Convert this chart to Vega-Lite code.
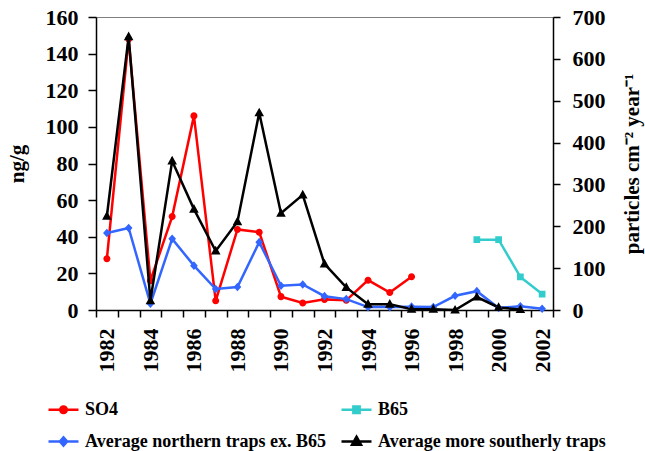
{
  "$schema": "https://vega.github.io/schema/vega-lite/v6.json",
  "autosize": {"type": "none"},
  "padding": {"left": 96, "top": 17, "right": 92, "bottom": 141},
  "width": 457,
  "height": 293,
  "background": "white",
  "config": {
    "view": {"stroke": "#808080", "strokeWidth": 1},
    "font": "Liberation Serif",
    "axis": {
      "labelFont": "Liberation Serif", "labelFontWeight": "bold", "labelFontSize": 22, "labelColor": "#000",
      "titleFont": "Liberation Serif", "titleFontWeight": "bold", "titleFontSize": 21, "titleColor": "#000",
      "domainColor": "#000", "tickColor": "#000", "domainWidth": 1.5, "tickWidth": 1.5, "grid": false
    },
    "legend": {
      "labelFont": "Liberation Serif", "labelFontWeight": "bold", "labelFontSize": 18, "labelColor": "#000",
      "padding": 0, "symbolSize": 900, "symbolStrokeWidth": 2.5, "labelOffset": 5, "labelLimit": 400
    }
  },
  "data": {"values": [
    {"year": 1982, "series": "SO4", "v": 28},
    {"year": 1983, "series": "SO4", "v": 148},
    {"year": 1984, "series": "SO4", "v": 16},
    {"year": 1985, "series": "SO4", "v": 51},
    {"year": 1986, "series": "SO4", "v": 106},
    {"year": 1987, "series": "SO4", "v": 5},
    {"year": 1988, "series": "SO4", "v": 44},
    {"year": 1989, "series": "SO4", "v": 42.5},
    {"year": 1990, "series": "SO4", "v": 7.3},
    {"year": 1991, "series": "SO4", "v": 3.8},
    {"year": 1992, "series": "SO4", "v": 5.8},
    {"year": 1993, "series": "SO4", "v": 5.3},
    {"year": 1994, "series": "SO4", "v": 16.3},
    {"year": 1995, "series": "SO4", "v": 9.5},
    {"year": 1996, "series": "SO4", "v": 18.1},
    {"year": 1999, "series": "B65", "v": 168},
    {"year": 2000, "series": "B65", "v": 168},
    {"year": 2001, "series": "B65", "v": 79},
    {"year": 2002, "series": "B65", "v": 38},
    {"year": 1982, "series": "Average northern traps ex. B65", "v": 184},
    {"year": 1983, "series": "Average northern traps ex. B65", "v": 196},
    {"year": 1984, "series": "Average northern traps ex. B65", "v": 15},
    {"year": 1985, "series": "Average northern traps ex. B65", "v": 170},
    {"year": 1986, "series": "Average northern traps ex. B65", "v": 106},
    {"year": 1987, "series": "Average northern traps ex. B65", "v": 50},
    {"year": 1988, "series": "Average northern traps ex. B65", "v": 55},
    {"year": 1989, "series": "Average northern traps ex. B65", "v": 162},
    {"year": 1990, "series": "Average northern traps ex. B65", "v": 58},
    {"year": 1991, "series": "Average northern traps ex. B65", "v": 61},
    {"year": 1992, "series": "Average northern traps ex. B65", "v": 33},
    {"year": 1993, "series": "Average northern traps ex. B65", "v": 26},
    {"year": 1994, "series": "Average northern traps ex. B65", "v": 7},
    {"year": 1995, "series": "Average northern traps ex. B65", "v": 7},
    {"year": 1996, "series": "Average northern traps ex. B65", "v": 8},
    {"year": 1997, "series": "Average northern traps ex. B65", "v": 7},
    {"year": 1998, "series": "Average northern traps ex. B65", "v": 34},
    {"year": 1999, "series": "Average northern traps ex. B65", "v": 45},
    {"year": 2000, "series": "Average northern traps ex. B65", "v": 5},
    {"year": 2001, "series": "Average northern traps ex. B65", "v": 9},
    {"year": 2002, "series": "Average northern traps ex. B65", "v": 3},
    {"year": 1982, "series": "Average more southerly traps", "v": 224},
    {"year": 1983, "series": "Average more southerly traps", "v": 653},
    {"year": 1984, "series": "Average more southerly traps", "v": 22},
    {"year": 1985, "series": "Average more southerly traps", "v": 356},
    {"year": 1986, "series": "Average more southerly traps", "v": 241},
    {"year": 1987, "series": "Average more southerly traps", "v": 141},
    {"year": 1988, "series": "Average more southerly traps", "v": 211},
    {"year": 1989, "series": "Average more southerly traps", "v": 471},
    {"year": 1990, "series": "Average more southerly traps", "v": 231},
    {"year": 1991, "series": "Average more southerly traps", "v": 275},
    {"year": 1992, "series": "Average more southerly traps", "v": 110},
    {"year": 1993, "series": "Average more southerly traps", "v": 54},
    {"year": 1994, "series": "Average more southerly traps", "v": 14},
    {"year": 1995, "series": "Average more southerly traps", "v": 14},
    {"year": 1996, "series": "Average more southerly traps", "v": 2},
    {"year": 1997, "series": "Average more southerly traps", "v": 2},
    {"year": 1998, "series": "Average more southerly traps", "v": 0},
    {"year": 1999, "series": "Average more southerly traps", "v": 31},
    {"year": 2000, "series": "Average more southerly traps", "v": 6},
    {"year": 2001, "series": "Average more southerly traps", "v": 1}
  ]},
  "encoding": {
    "x": {
      "field": "year", "type": "ordinal",
      "scale": {"type": "band", "paddingInner": 0, "paddingOuter": 0},
      "axis": {
        "title": null, "labelAngle": 270, "labelPadding": 11, "tickSize": 7, "tickBand": "extent",
        "labelExpr": "datum.value % 2 === 0 ? datum.label : ''"
      }
    },
    "color": {"field": "series", "type": "nominal", "title": null,
      "scale": {"domain": ["SO4", "B65", "Average northern traps ex. B65", "Average more southerly traps"], "range": ["#FF0000", "#33CCCC", "#3366FF", "#000000"]},
      "legend": {"orient": "none", "direction": "horizontal", "legendX": -49, "legendY": 376, "columns": 2, "columnPadding": 9, "rowPadding": 6,
        "labelFont": "Liberation Serif", "labelFontWeight": "bold", "labelFontSize": 18}}
  },
  "layer": [
    {
      "transform": [{"filter": "datum.series === 'SO4'"}],
      "encoding": {
        "y": {
          "field": "v", "type": "quantitative",
          "scale": {"domain": [0, 160], "nice": false},
          "axis": {"orient": "left", "title": "ng/g", "values": [0, 20, 40, 60, 80, 100, 120, 140, 160], "tickSize": 8, "labelPadding": 10, "titlePadding": 18}
        }
      },
      "layer": [
        {
          "mark": {"type": "line", "strokeWidth": 2.5}
        },
        {
          "mark": {"type": "point", "filled": true, "size": 1024, "opacity": 1},
          "encoding": {
            "shape": {"field": "series", "type": "nominal", "title": null,
              "scale": {"domain": ["SO4", "B65", "Average northern traps ex. B65", "Average more southerly traps"],
                "range": ["M-1,0H1M-0.22,0A0.22,0.22,0,1,0,0.22,0A0.22,0.22,0,1,0,-0.22,0Z", "M-1,0H1M-0.21,-0.21H0.21V0.21H-0.21Z", "M-1,0H1M0,-0.27L0.24,0L0,0.27L-0.24,0Z", "M-1,0H1M0,-0.32L0.3,0.22L-0.3,0.22Z"]},
              "legend": {"orient": "none", "direction": "horizontal", "legendX": -49, "legendY": 376, "columns": 2, "columnPadding": 9, "rowPadding": 6,
                "labelFont": "Liberation Serif", "labelFontWeight": "bold", "labelFontSize": 18}}
          }
        }
      ]
    },
    {
      "transform": [{"filter": "datum.series !== 'SO4'"}],
      "encoding": {
        "y": {
          "field": "v", "type": "quantitative",
          "scale": {"domain": [0, 700], "nice": false},
          "axis": {"orient": "right", "title": "particles cm⁻² year⁻¹", "titleAngle": 270, "titleBaseline": "top", "values": [0, 100, 200, 300, 400, 500, 600, 700], "tickSize": 7, "labelPadding": 12, "titlePadding": 16}
        }
      },
      "layer": [
        {
          "mark": {"type": "line", "strokeWidth": 2.5}
        },
        {
          "mark": {"type": "point", "filled": true, "size": 1024, "opacity": 1},
          "encoding": {
            "shape": {"field": "series", "type": "nominal", "title": null}
          }
        }
      ]
    }
  ],
  "resolve": {"scale": {"y": "independent"}}
}
